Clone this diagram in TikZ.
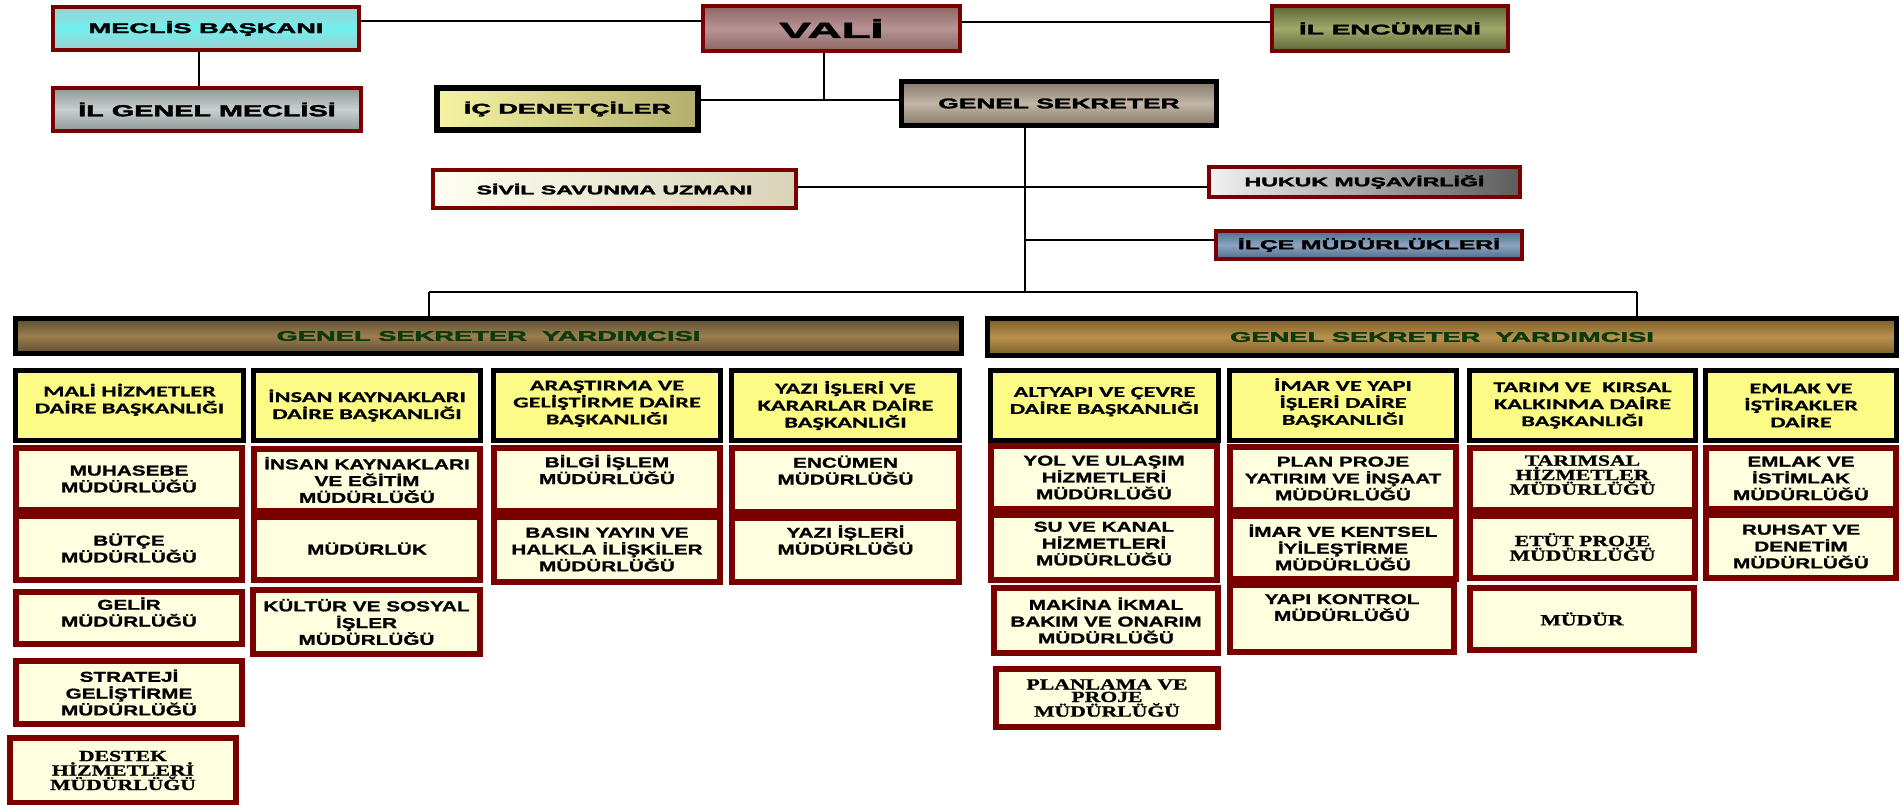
\documentclass[tikz,border=0pt]{standalone}
\usepackage{fontspec}
\usepackage{graphicx}
\setmainfont{Liberation Sans}[BoldFeatures={FakeBold=2}]
\newfontfamily\headfont{Carlito}[FakeStretch=1.62, BoldFeatures={FakeBold=0.6}]
\newfontfamily\subfont{Liberation Sans}[FakeStretch=1.45, BoldFeatures={FakeBold=1.2}]
\newfontfamily\serfont{Liberation Serif}[FakeStretch=1.4, BoldFeatures={FakeBold=1.2}]
\definecolor{dred}{HTML}{7A0000}
\definecolor{hy}{HTML}{FBFB86}
\definecolor{cream}{HTML}{FFFFE0}
\definecolor{mecA}{HTML}{9FCFCF}\definecolor{mecB}{HTML}{70F0F0}
\definecolor{ilgA}{HTML}{8E9696}\definecolor{ilgB}{HTML}{C8D0D0}
\definecolor{valA}{HTML}{8C6464}\definecolor{valB}{HTML}{B89494}
\definecolor{encA}{HTML}{5E6636}\definecolor{encB}{HTML}{A0AA6A}
\definecolor{gsA}{HTML}{86786A}\definecolor{gsB}{HTML}{C2B6A6}
\definecolor{icA}{HTML}{F6F4A2}\definecolor{icB}{HTML}{B4AE6E}
\definecolor{svA}{HTML}{FFFFF2}\definecolor{svB}{HTML}{D8D4B8}
\definecolor{hkA}{HTML}{F2F2F2}\definecolor{hkB}{HTML}{5C5C5C}
\definecolor{ilcA}{HTML}{4E6C8E}\definecolor{ilcB}{HTML}{8CA4BE}
\definecolor{gyA}{HTML}{5C4E32}\definecolor{gyB}{HTML}{9C7E4E}
\definecolor{gzA}{HTML}{7A5A28}\definecolor{gzB}{HTML}{B8924C}
\definecolor{gytext}{HTML}{0B3B0B}
\newcommand\wx[2]{\scalebox{#1}[1]{#2}}
\newcommand\up[1]{\rule[-#1pt]{0pt}{0pt}}
\newcommand\obox[8]{%
  \node[#6, line width=#8pt, minimum width={(#4)-(#2)-(#8)}, minimum height={(#5)-(#3)-(#8)}]
    (#1) at ({((#2)+(#4))/2},{((#3)+(#5))/2}) {#7};}
\tikzset{
  topbox/.style={draw=dred, inner sep=0pt, font=\bfseries\fontsize{14}{16}\selectfont},
  headbox/.style={draw=black, fill=hy, inner sep=0pt, align=center,
    font=\headfont\bfseries\fontsize{15}{17}\selectfont},
  subbox/.style={draw=dred, fill=cream, inner sep=0pt, align=center,
    font=\subfont\bfseries\fontsize{14.3}{16.8}\selectfont},
  serbox/.style={subbox, font=\serfont\bfseries\fontsize{15.5}{12.5}\selectfont},
  gsybox/.style={draw=black, inner sep=0pt, text=gytext, font=\bfseries\fontsize{14}{16}\selectfont},
  conn/.style={line width=2.8pt, black}
}
\begin{document}
\begin{tikzpicture}[x=1pt,y=-1pt]
\useasboundingbox (0,0) rectangle (1901,804);
% top level
\obox{meclis}{51}{5}{361}{52}{topbox, top color=mecA, bottom color=mecA, middle color=mecB}{\wx{1.95}{MECLİS BAŞKANI}}{4}
\obox{vali}{701}{4}{962}{53}{topbox, top color=valA, bottom color=valA, middle color=valB}{\fontsize{22}{24}\selectfont\wx{2.15}{VALİ}}{4}
\obox{encumen}{1270}{4}{1510}{53}{topbox, top color=encA, bottom color=encA, middle color=encB}{\wx{2.0}{İL ENCÜMENİ}}{4}
\obox{ilgenel}{51}{86}{363}{133}{topbox, top color=ilgA, bottom color=ilgA, middle color=ilgB}{\fontsize{16}{18}\selectfont\wx{1.8}{İL GENEL MECLİSİ}}{4}
\obox{icdenet}{434}{85}{701}{133}{topbox, draw=black, left color=icA, right color=icB}{\wx{1.93}{İÇ DENETÇİLER}}{6}
\obox{gensek}{899}{79}{1219}{128}{topbox, draw=black, top color=gsA, bottom color=gsA, middle color=gsB}{\wx{1.88}{GENEL SEKRETER}}{5}
\obox{sivil}{431}{168}{798}{210}{topbox, left color=svA, right color=svB}{\fontsize{12.5}{14}\selectfont\wx{1.85}{SİVİL SAVUNMA UZMANI}}{4}
\obox{hukuk}{1207}{165}{1522}{199}{topbox, left color=hkA, right color=hkB}{\fontsize{12.5}{14}\selectfont\wx{1.85}{HUKUK MUŞAVİRLİĞİ}}{4}
\obox{ilce}{1214}{229}{1524}{261}{topbox, top color=ilcA, bottom color=ilcA, middle color=ilcB}{\fontsize{13}{14}\selectfont\wx{1.9}{İLÇE MÜDÜRLÜKLERİ}}{4}
\obox{gsy1}{13}{316}{964}{356}{gsybox, top color=gyA, bottom color=gyA, middle color=gyB}{\wx{1.95}{GENEL SEKRETER\ \ YARDIMCISI}}{5}
\obox{gsy2}{985}{316}{1899}{358}{gsybox, top color=gzA, bottom color=gzA, middle color=gzB}{\wx{1.95}{GENEL SEKRETER\ \ YARDIMCISI}}{5}
% connectors
\coordinate (c1) at (0,21);
\coordinate (c2) at (199,0);
\coordinate (c3) at (824,100);
\coordinate (c4) at (1025,187);
\coordinate (c5) at (1025,240);
\coordinate (busL) at (429,292);
\coordinate (busR) at (1637,292);
\coordinate (busM) at (1025,292);
\draw[conn] (meclis.east |- c1) -- (vali.west |- c1);
\draw[conn] ([yshift=-1pt]vali.east |- c1) -- ([yshift=-1pt]encumen.west |- c1);
\draw[conn] (meclis.south -| c2) -- (ilgenel.north -| c2);
\draw[conn] (vali.south -| c3) -- (c3);
\draw[conn] (icdenet.east |- c3) -- (gensek.west |- c3);
\draw[conn] (gensek.south -| busM) -- (busM);
\draw[conn] (sivil.east |- c4) -- (hukuk.west |- c4);
\draw[conn] (c5) -- (ilce.west |- c5);
\draw[conn] (busL) -- (busR);
\draw[conn] (busL) -- (gsy1.north -| busL);
\draw[conn] (busR) -- (gsy2.north -| busR);
% department heads
\obox{h1}{13}{368}{246}{443}{headbox}{MALİ HİZMETLER\\DAİRE BAŞKANLIĞI\up{14}}{5}
\obox{h2}{251}{368}{483}{443}{headbox}{İNSAN KAYNAKLARI\\DAİRE BAŞKANLIĞI}{5}
\obox{h3}{491}{368}{723}{443}{headbox}{ARAŞTIRMA VE\\GELİŞTİRME DAİRE\\BAŞKANLIĞI\up{6}}{5}
\obox{h4}{729}{368}{962}{443}{headbox}{YAZI İŞLERİ VE\\KARARLAR DAİRE\\BAŞKANLIĞI}{5}
\obox{h5}{988}{368}{1221}{443}{headbox}{ALTYAPI VE ÇEVRE\\DAİRE BAŞKANLIĞI\up{10}}{5}
\obox{h6}{1227}{368}{1459}{443}{headbox}{İMAR VE YAPI\\İŞLERİ DAİRE\\BAŞKANLIĞI\up{8}}{5}
\obox{h7}{1467}{368}{1698}{443}{headbox}{TARIM VE\ \ KIRSAL\\KALKINMA DAİRE\\BAŞKANLIĞI}{5}
\obox{h8}{1703}{368}{1899}{443}{headbox}{EMLAK VE\\İŞTİRAKLER\\DAİRE}{5}
% units
\obox{s11}{13}{445}{245}{513}{subbox}{MUHASEBE\\MÜDÜRLÜĞÜ}{6}
\obox{s12}{13}{513}{245}{583}{subbox}{BÜTÇE\\MÜDÜRLÜĞÜ}{6}
\obox{s13}{13}{589}{245}{647}{subbox}{GELİR\\MÜDÜRLÜĞÜ\up{12}}{6}
\obox{s14}{13}{658}{245}{727}{subbox}{STRATEJİ\\GELİŞTİRME\\MÜDÜRLÜĞÜ}{6}
\obox{s15}{7}{735}{239}{806}{serbox}{DESTEK\\HİZMETLERİ\\MÜDÜRLÜĞÜ}{6}
\obox{s21}{251}{446}{483}{514}{subbox}{İNSAN KAYNAKLARI\\VE EĞİTİM\\MÜDÜRLÜĞÜ}{6}
\obox{s22}{251}{514}{483}{583}{subbox}{MÜDÜRLÜK}{6}
\obox{s23}{250}{587}{483}{657}{subbox}{KÜLTÜR VE SOSYAL\\İŞLER\\MÜDÜRLÜĞÜ}{6}
\obox{s31}{491}{445}{723}{514}{subbox}{BİLGİ İŞLEM\\MÜDÜRLÜĞÜ\up{20}}{6}
\obox{s32}{491}{514}{723}{585}{subbox}{BASIN YAYIN VE\\HALKLA İLİŞKİLER\\MÜDÜRLÜĞÜ}{6}
\obox{s41}{729}{445}{962}{515}{subbox}{ENCÜMEN\\MÜDÜRLÜĞÜ\up{20}}{6}
\obox{s42}{729}{515}{962}{585}{subbox}{YAZI İŞLERİ\\MÜDÜRLÜĞÜ\up{20}}{6}
\obox{s51}{988}{443}{1220}{512}{subbox}{YOL VE ULAŞIM\\HİZMETLERİ\\MÜDÜRLÜĞÜ}{6}
\obox{s52}{988}{512}{1220}{583}{subbox}{SU VE KANAL\\HİZMETLERİ\\MÜDÜRLÜĞÜ\up{8}}{6}
\obox{s53}{991}{585}{1221}{656}{subbox}{MAKİNA İKMAL\\BAKIM VE ONARIM\\MÜDÜRLÜĞÜ}{6}
\obox{s54}{993}{666}{1221}{730}{serbox}{PLANLAMA VE\\PROJE\\MÜDÜRLÜĞÜ}{6}
\obox{s61}{1227}{444}{1459}{513}{subbox}{PLAN PROJE\\YATIRIM VE İNŞAAT\\MÜDÜRLÜĞÜ}{6}
\obox{s62}{1227}{513}{1459}{582}{subbox}{İMAR VE KENTSEL\\İYİLEŞTİRME\\MÜDÜRLÜĞÜ}{6}
\obox{s63}{1227}{582}{1457}{655}{subbox}{YAPI KONTROL\\MÜDÜRLÜĞÜ\up{22}}{6}
\obox{s71}{1467}{445}{1698}{513}{serbox}{TARIMSAL\\HİZMETLER\\MÜDÜRLÜĞÜ\up{8}}{6}
\obox{s72}{1467}{513}{1698}{581}{serbox}{ETÜT PROJE\\MÜDÜRLÜĞÜ}{6}
\obox{s73}{1467}{585}{1697}{653}{serbox}{MÜDÜR}{6}
\obox{s81}{1703}{445}{1899}{512}{subbox}{EMLAK VE\\İSTİMLAK\\MÜDÜRLÜĞÜ}{6}
\obox{s82}{1703}{512}{1899}{581}{subbox}{RUHSAT VE\\DENETİM\\MÜDÜRLÜĞÜ}{6}
\end{tikzpicture}
\end{document}
